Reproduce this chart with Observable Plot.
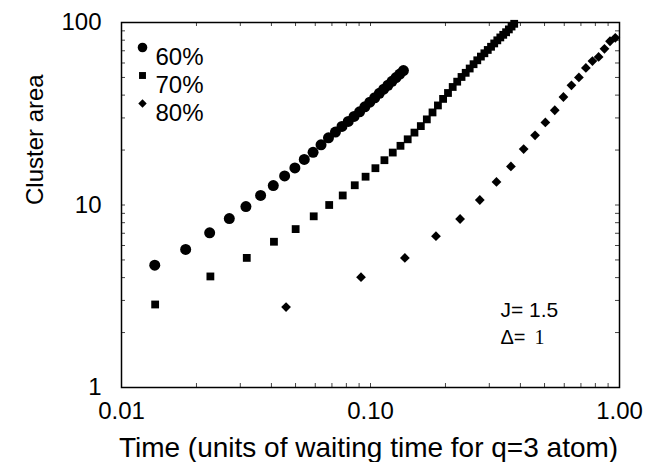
<!DOCTYPE html>
<html>
<head>
<meta charset="utf-8">
<script src="https://cdn.jsdelivr.net/npm/d3@7"></script>
<script src="https://cdn.jsdelivr.net/npm/@observablehq/plot@0.6"></script>
<style>
  html, body { margin: 0; padding: 0; background: white; }
  #chart { width: 648px; height: 462px; }
</style>
</head>
<body>
<div id="chart"></div>
<script>
// ---- data ----
const time60 = [0.0136, 0.0181, 0.0226, 0.0271, 0.0316, 0.0362, 0.0407, 0.0452, 0.0497, 0.0542, 0.0588, 0.0633, 0.0678, 0.0723, 0.0768, 0.0814, 0.0859, 0.0904, 0.0949, 0.0994, 0.104, 0.1085, 0.113, 0.1175, 0.122, 0.1266, 0.1311, 0.1356];
const area60 = [4.68, 5.71, 7.04, 8.43, 9.81, 11.28, 12.77, 14.43, 15.97, 17.78, 19.43, 21.36, 23.35, 25.08, 26.93, 28.69, 30.56, 32.4, 34.5, 36.6, 38.7, 40.9, 43.1, 45.3, 47.6, 49.9, 52.2, 54.5];

const time70 = [0.01365, 0.02275, 0.03185, 0.04095, 0.05005, 0.05915, 0.06825, 0.07735, 0.08645, 0.09555, 0.10465, 0.11375, 0.12285, 0.13195, 0.14105, 0.15015, 0.15925, 0.16835, 0.17745, 0.18655, 0.19565, 0.20475, 0.21385, 0.22295, 0.23205, 0.24115, 0.25025, 0.25935, 0.26845, 0.27755, 0.28665, 0.29575, 0.30485, 0.31395, 0.32305, 0.33215, 0.34125, 0.35035, 0.35945, 0.36855, 0.37765];
const area70 = [2.85, 4.06, 5.13, 6.29, 7.38, 8.67, 10.0, 11.28, 12.83, 14.29, 15.91, 17.60, 19.38, 21.10, 22.91, 24.93, 27.06, 29.46, 32.15, 35.12, 38.14, 41.09, 44.33, 47.40, 50.30, 53.0, 55.96, 59.08, 62.08, 65.05, 67.82, 70.72, 73.63, 76.78, 79.86, 82.83, 85.6, 88.45, 91.66, 95.06, 98.37];

const time80 = [0.0458, 0.0916, 0.1374, 0.1832, 0.229, 0.2748, 0.3206, 0.3664, 0.4122, 0.458, 0.5038, 0.5496, 0.5954, 0.6412, 0.687, 0.7328, 0.7786, 0.8244, 0.8702, 0.916, 0.9618];
const area80 = [2.76, 4.02, 5.13, 6.75, 8.38, 10.65, 13.38, 16.27, 20.26, 24.09, 28.33, 33.05, 39.06, 45.24, 50.0, 56.38, 61.43, 64.79, 71.78, 78.94, 82.4];

const xTickValues = [0.01, 0.1, 1];
const yTickValues = [1, 10, 100];
const xMinorTicks = [0.02, 0.03, 0.04, 0.05, 0.06, 0.07, 0.08, 0.09, 0.1, 0.2, 0.3, 0.4, 0.5, 0.6, 0.7, 0.8, 0.9];
const yMinorTicks = [2, 3, 4, 5, 6, 7, 8, 9, 10, 20, 30, 40, 50, 60, 70, 80, 90];

const legendLabels = ["60%", "70%", "80%"];
const legendSymbols = ["circle", "square", "diamond2"];
const xLabel = "Time (units of waiting time for q=3 atom)";
const yLabel = "Cluster area";
const noteJ = "J= 1.5";
const noteD = "Δ=";
const noteD1 = "1";

// ---- build tables ----
const s60 = time60.map((t, i) => ({t, a: area60[i]}));
const s70 = time70.map((t, i) => ({t, a: area70[i]}));
const s80 = time80.map((t, i) => ({t, a: area80[i]}));

const W = 648, H = 462;
const mL = 121, mR = 29, mT = 22, mB = 75;
const fw = W - mL - mR, fh = H - mT - mB;
const tk = 4;

const legendMarks = legendLabels.flatMap((lab, i) => [
  Plot.dot([lab], {frameAnchor: "top-left", dx: 21, dy: 25 + 28 * i, symbol: legendSymbols[i], r: [4.8, 3.9, 3.8][i], fill: "black"}),
  Plot.text([lab], {text: d => d, frameAnchor: "top-left", dx: 34, dy: 25 + 28 * i, textAnchor: "start", fontSize: 24, fill: "black"})
]);

const chart = Plot.plot({
  width: W,
  height: H,
  marginLeft: mL,
  marginRight: mR,
  marginTop: mT,
  marginBottom: mB,
  style: {fontFamily: "'Liberation Sans', Arial, Helvetica, sans-serif", fontSize: "24px", background: "white", color: "black"},
  x: {type: "log", domain: [0.01, 1]},
  y: {type: "log", domain: [1, 100]},
  marks: [
    // minor ticks inward on all four sides
    Plot.tickX(xMinorTicks, {x: d => d, insetTop: fh - tk, stroke: "#444", strokeWidth: 1}),
    Plot.tickX(xMinorTicks, {x: d => d, insetBottom: fh - tk, stroke: "#444", strokeWidth: 1}),
    Plot.tickY(yMinorTicks, {y: d => d, insetRight: fw - tk, stroke: "#444", strokeWidth: 1}),
    Plot.tickY(yMinorTicks, {y: d => d, insetLeft: fw - tk, stroke: "#444", strokeWidth: 1}),
    Plot.frame({stroke: "black", strokeWidth: 1.5}),
    Plot.axisX({ticks: xTickValues, tickFormat: d3.format(".2f"), tickSize: 0, tickPadding: 14, fontSize: 24, label: null}),
    Plot.axisY({ticks: yTickValues, tickFormat: d => String(d), tickSize: 0, tickPadding: 20, fontSize: 24, label: null}),
    Plot.text([xLabel], {text: d => d, frameAnchor: "bottom", dx: -2, dy: 69, fontSize: 28, fill: "black"}),
    Plot.text([yLabel], {text: d => d, frameAnchor: "left", dx: -86, rotate: -90, fontSize: 24, fill: "black"}),
    // data
    Plot.dot(s60, {x: "t", y: "a", symbol: "circle", r: 5.5, fill: "black"}),
    Plot.dot(s70, {x: "t", y: "a", symbol: "square", r: 4.4, fill: "black"}),
    Plot.dot(s80, {x: "t", y: "a", symbol: "diamond2", r: 4.4, fill: "black"}),
    ...legendMarks,
    Plot.text([noteJ], {text: d => d, frameAnchor: "bottom-right", dx: -119, dy: -71, textAnchor: "start", fontSize: 21, fill: "black"}),
    Plot.text([noteD], {text: d => d, frameAnchor: "bottom-right", dx: -119, dy: -44, textAnchor: "start", fontSize: 20, fill: "black"}),
    Plot.text([noteD1], {text: d => d, frameAnchor: "bottom-right", dx: -85, dy: -44, textAnchor: "start", fontSize: 20, fontFamily: "'Liberation Serif', 'Times New Roman', serif", fill: "black"})
  ]
});
document.getElementById("chart").appendChild(chart);
</script>
</body>
</html>
